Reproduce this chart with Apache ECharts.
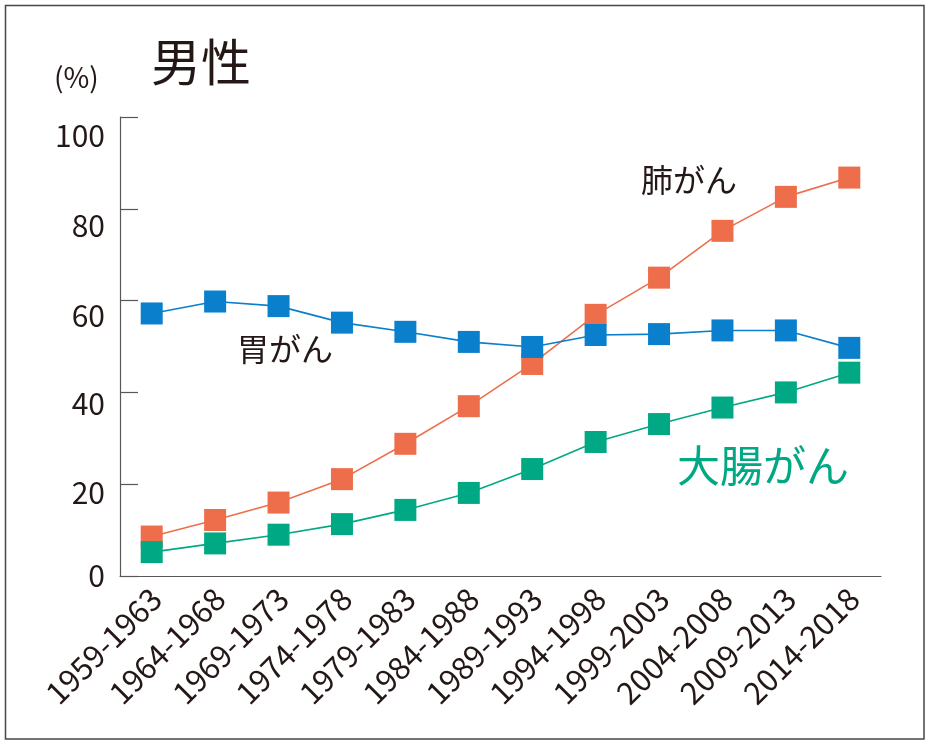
<!DOCTYPE html>
<html>
<head>
<meta charset="utf-8">
<script src="https://cdn.jsdelivr.net/npm/echarts@6/dist/echarts.min.js"></script>
<style>
html,body{margin:0;padding:0;background:#fff;}
#chart{width:930px;height:745px;}
</style>
</head>
<body>
<div id="chart"></div>
<script>
const categories = ['1959-1963','1964-1968','1969-1973','1974-1978','1979-1983','1984-1988','1989-1993','1994-1998','1999-2003','2004-2008','2009-2013','2014-2018'];
const stomach = [57.2, 59.8, 58.8, 55.2, 53.2, 51.0, 49.9, 52.5, 52.7, 53.5, 53.5, 49.7];
const lung = [8.6, 12.2, 16.0, 21.1, 28.8, 37.0, 46.2, 56.9, 65.0, 75.2, 82.6, 86.8];
const colorectal = [5.2, 7.1, 9.0, 11.3, 14.4, 18.1, 23.3, 29.2, 33.1, 36.7, 40.0, 44.3];
const yTicks = [0, 20, 40, 60, 80, 100];

const FONT = '"Noto Sans CJK JP", "Noto Sans", sans-serif';
const cBlue = '#0a7fcb', cOrange = '#ee6d4a', cGreen = '#00a884';
const axisColor = '#5b5657';
const textColor = '#231815';

// vertical nudge (px, downward) of each y tick label, as placed in the source artwork
const yLabelShift = {0: 0, 20: 8, 40: 11, 60: 15, 80: 17, 100: 19};
const yRich = {};
yTicks.forEach(v => {
  yRich['t' + v] = {fontSize: 30, fontFamily: FONT, color: textColor, padding: [yLabelShift[v] * 2, 0, 0, 0]};
});

const chart = echarts.init(document.getElementById('chart'));
function lineSeries(name, data, color) {
  return {
    name: name, type: 'line', data: data,
    symbol: 'rect', symbolSize: 22,
    itemStyle: {color: color},
    lineStyle: {color: color, width: 1.6},
    animation: false
  };
}
chart.setOption({
  backgroundColor: '#fff',
  animation: false,
  grid: {left: 120, right: 49, top: 117, bottom: 169},
  xAxis: {
    type: 'category', data: categories, boundaryGap: true,
    axisLine: {lineStyle: {color: axisColor, width: 1.2}},
    axisTick: {inside: true, length: 11, lineStyle: {color: axisColor, width: 1.2}},
    axisLabel: {
      rotate: 45, margin: 13, interval: 0,
      formatter: v => '{c|' + v + '}',
      rich: {c: {fontSize: 31, fontFamily: FONT, color: textColor, padding: [12, 0, 0, 0]}}
    }
  },
  yAxis: {
    type: 'value', min: yTicks[0], max: yTicks[yTicks.length - 1], interval: 20,
    axisLine: {show: true, lineStyle: {color: axisColor, width: 1.2}},
    axisTick: {show: true, inside: true, length: 18, lineStyle: {color: axisColor, width: 1.2}},
    splitLine: {show: false},
    axisLabel: {
      margin: 15,
      formatter: v => '{t' + v + '|' + v + '}',
      rich: yRich
    }
  },
  series: [
    lineSeries('肺がん', lung, cOrange),
    lineSeries('大腸がん', colorectal, cGreen),
    lineSeries('胃がん', stomach, cBlue)
  ],
  graphic: [
    {type: 'rect', shape: {x: 5.5, y: 5.5, width: 918.5, height: 733.5}, style: {fill: 'none', stroke: '#4a4546', lineWidth: 1.5}, silent: true},
    {type: 'text', left: 151, top: 37, style: {text: '男性', fontSize: 50, fontFamily: FONT, fill: textColor}},
    {type: 'text', left: 54, top: 63, style: {text: '(%)', fontSize: 28, fontFamily: FONT, fill: textColor}},
    {type: 'text', left: 641, top: 164, style: {text: '肺がん', fontSize: 32, fontFamily: FONT, fill: textColor}},
    {type: 'text', left: 237, top: 333, style: {text: '胃がん', fontSize: 32, fontFamily: FONT, fill: textColor}},
    {type: 'text', left: 677, top: 444, style: {text: '大腸がん', fontSize: 43, fontFamily: FONT, fill: cGreen}}
  ]
});
</script>
</body>
</html>
